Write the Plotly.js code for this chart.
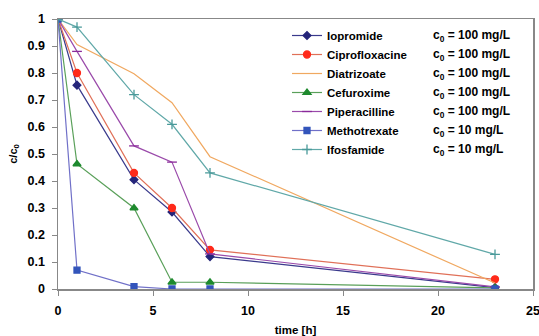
<!DOCTYPE html>
<html>
<head>
<meta charset="utf-8">
<script src="https://cdn.plot.ly/plotly-3.0.1.min.js"></script>
<style>html,body{margin:0;padding:0;background:#fff;overflow:hidden;}#chart{width:539px;height:336px;}</style>
</head>
<body>
<div id="chart"></div>
<script>
const time = [0, 1, 4, 6, 8, 23];
const timeDiatrizoate = [0, 1, 4, 6, 8, 23];
const iopromide = [1, 0.755, 0.405, 0.285, 0.12, 0.005];
const ciprofloxacine = [1, 0.80, 0.43, 0.30, 0.145, 0.036];
const diatrizoate = [1, 0.905, 0.797, 0.69, 0.49, 0.022];
const cefuroxime = [1, 0.463, 0.30, 0.025, 0.025, 0.004];
const piperacilline = [1, 0.88, 0.53, 0.47, 0.13, 0.008];
const methotrexate = [1, 0.07, 0.009, 0.0, 0.0, 0.0];
const ifosfamide = [1, 0.97, 0.72, 0.61, 0.43, 0.128];
const seriesNames = ["Iopromide", "Ciprofloxacine", "Diatrizoate", "Cefuroxime", "Piperacilline", "Methotrexate", "Ifosfamide"];
const c0Labels = ["c<sub>0</sub> = 100 mg/L", "c<sub>0</sub> = 100 mg/L", "c<sub>0</sub> = 100 mg/L", "c<sub>0</sub> = 100 mg/L", "c<sub>0</sub> = 100 mg/L", "c<sub>0</sub> = 10 mg/L", "c<sub>0</sub> = 10 mg/L"];
const xTicks = [0, 5, 10, 15, 20, 25];
const yTicks = [0, 0.1, 0.2, 0.3, 0.4, 0.5, 0.6, 0.7, 0.8, 0.9, 1];

const F = "Liberation Sans, Arial, sans-serif";
function tr(name, x, y, lineColor, mColor, symbol, size, mode) {
  return {x: x, y: y, name: name, type: "scatter", mode: mode || "lines+markers",
    line: {color: lineColor, width: 1.2},
    marker: {color: mColor, symbol: symbol, size: size, line: {color: mColor, width: 1.3}}};
}
const data = [
  tr(seriesNames[0], time, iopromide, "#3a3a8c", "#25257a", "diamond", 6),
  tr(seriesNames[1], time, ciprofloxacine, "#e07058", "#ff2a1a", "circle", 7),
  tr(seriesNames[2], timeDiatrizoate, diatrizoate, "#f0a860", "#f0a860", "circle", 1, "lines"),
  tr(seriesNames[3], time, cefuroxime, "#5aa05a", "#1e8a2e", "triangle-up", 7),
  tr(seriesNames[4], time, piperacilline, "#9a4aaa", "#8a2a9a", "line-ew", 7),
  tr(seriesNames[5], time, methotrexate, "#7070c8", "#3355bb", "square", 6),
  tr(seriesNames[6], time, ifosfamide, "#60a8a8", "#4a9a9a", "cross-thin", 7)
];
const rowY = [36, 55, 74, 93, 112, 131, 150];
const annotations = c0Labels.map((t, i) => ({
  text: t, xref: "paper", yref: "paper", x: (431 - 58) / 475, y: (289 - rowY[i]) / 270,
  xanchor: "left", yanchor: "middle", showarrow: false,
  font: {family: F, size: 12, color: "#000", weight: "bold"}
}));
const layout = {
  width: 539, height: 336,
  margin: {l: 58, r: 6, t: 19, b: 47},
  paper_bgcolor: "#fff", plot_bgcolor: "#fff",
  showlegend: true,
  legend: {x: (287 - 58) / 475, y: (289 - 21) / 270, xanchor: "left", yanchor: "top",
    bgcolor: "rgba(255,255,255,0)", font: {family: F, size: 11.5, color: "#000", weight: "bold"},
    tracegroupgap: 0, itemwidth: 30},
  xaxis: {range: [0, 25], tickvals: xTicks, ticktext: xTicks.map(String), showgrid: false, zeroline: false,
    showline: true, linecolor: "#888", linewidth: 1.5, mirror: true, ticks: "outside", ticklen: 5, tickcolor: "#888",
    ticklabelstandoff: 4, ticklabeloverflow: "allow",
    tickfont: {family: F, size: 12.5, color: "#000", weight: "bold"},
    title: {text: "time [h]", font: {family: F, size: 11.5, color: "#000", weight: "bold"}, standoff: 17}},
  yaxis: {range: [0, 1], tickvals: yTicks, ticktext: yTicks.map(String), showgrid: false, zeroline: false,
    showline: true, linecolor: "#888", linewidth: 1.5, mirror: true, ticks: "outside", ticklen: 5, tickcolor: "#888",
    ticklabelstandoff: 4,
    tickfont: {family: F, size: 12.5, color: "#000", weight: "bold"},
    title: {text: "c/c<sub>0</sub>", font: {family: F, size: 11, color: "#000", weight: "bold"}, standoff: 8}},
  annotations: annotations
};
Plotly.newPlot("chart", data, layout, {displayModeBar: false, staticPlot: true});
</script>
</body>
</html>
